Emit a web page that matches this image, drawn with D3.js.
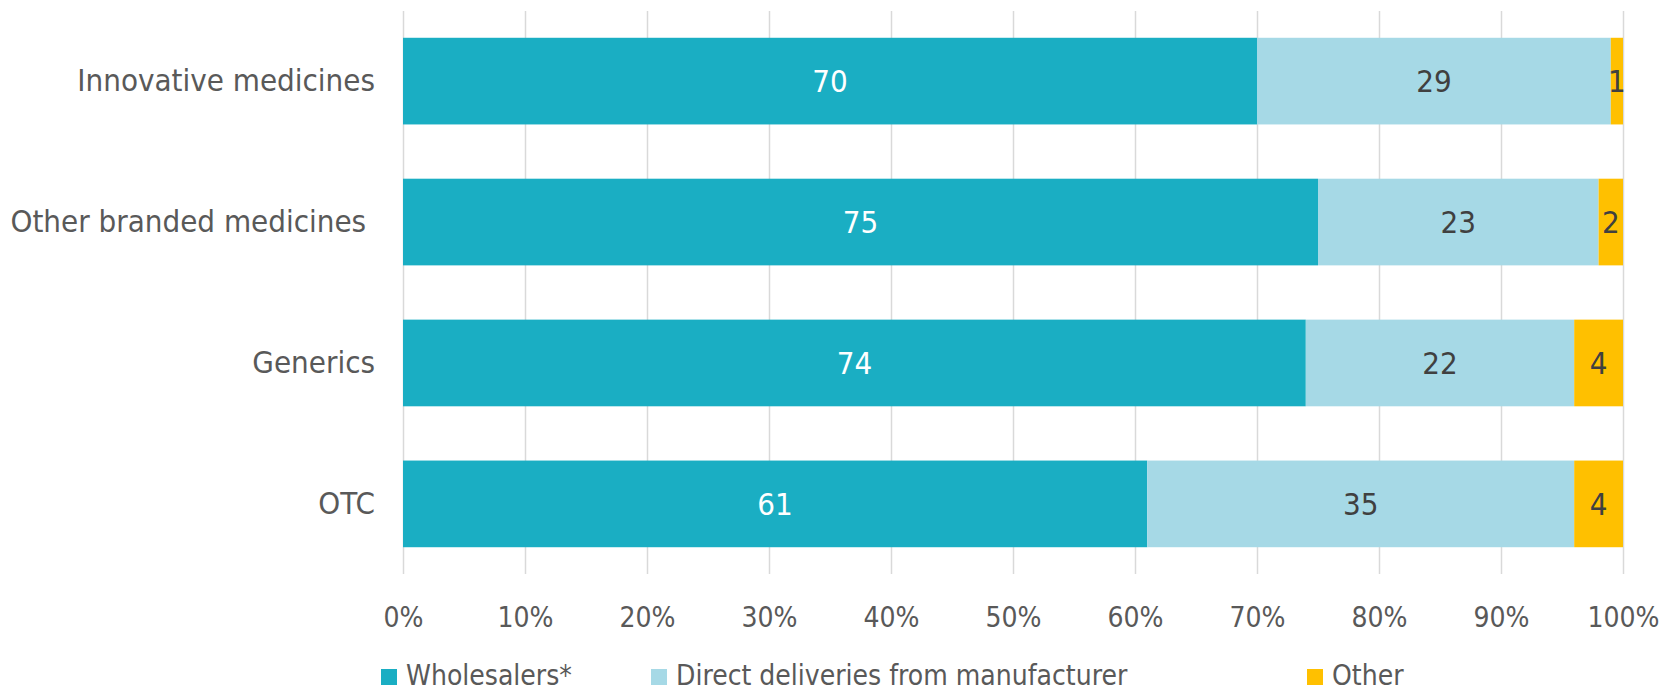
<!DOCTYPE html>
<html>
<head>
<meta charset="utf-8">
<script src="https://cdn.jsdelivr.net/npm/d3@7"></script>
<style>
  body { margin: 0; background: #fff; }
  svg text { font-family: "DejaVu Sans Condensed", "DejaVu Sans", sans-serif; }
</style>
</head>
<body>
<div id="chart"></div>
<script>
// data
var categories = ["Innovative medicines", "Other branded medicines ", "Generics", "OTC"];
var seriesNames = ["Wholesalers*", "Direct deliveries from manufacturer", "Other"];
var wholesalers = [70, 75, 74, 61];
var direct = [29, 23, 22, 35];
var other = [1, 2, 4, 4];
var ticks = [0, 10, 20, 30, 40, 50, 60, 70, 80, 90, 100];

var colors = ["#1aaec3", "#a6d9e6", "#ffc000"];
var labelColors = ["#ffffff", "#404040", "#404040"];

var W = 1669, H = 691;
var margin = {left: 403, right: 46, top: 11, bottom: 117};
var bigFont = 31, smallFont = 28;

var rows = categories.map((c, i) => ({cat: c, s0: wholesalers[i], s1: direct[i], s2: other[i]}));
var stack = d3.stack().keys(["s0", "s1", "s2"])(rows);

var x = d3.scaleLinear().domain([0, 100]).range([margin.left, W - margin.right]);
var y = d3.scaleBand().domain(categories).range([margin.top, H - margin.bottom])
    .paddingInner(0.385).paddingOuter(0.19);

var svg = d3.select("#chart").append("svg")
    .attr("width", W).attr("height", H);

// gridlines
svg.append("g")
    .selectAll("line")
    .data(ticks)
    .join("line")
    .attr("x1", d => x(d) + 0.5).attr("x2", d => x(d) + 0.5)
    .attr("y1", margin.top).attr("y2", H - margin.bottom)
    .attr("stroke", "#d9d9d9").attr("stroke-width", 1.5);

// bars
var layers = svg.append("g")
    .selectAll("g")
    .data(stack)
    .join("g")
    .attr("fill", (d, i) => colors[i]);

layers.selectAll("rect")
    .data(d => d)
    .join("rect")
    .attr("x", d => x(d[0]))
    .attr("width", d => x(d[1]) - x(d[0]))
    .attr("y", d => y(d.data.cat))
    .attr("height", y.bandwidth());

// value labels
svg.append("g")
    .selectAll("g")
    .data(stack)
    .join("g")
    .attr("fill", (d, i) => labelColors[i])
    .selectAll("text")
    .data(d => d)
    .join("text")
    .attr("x", d => x((d[0] + d[1]) / 2))
    .attr("y", d => y(d.data.cat) + y.bandwidth() / 2)
    .attr("dy", "0.36em")
    .attr("text-anchor", "middle")
    .style("font-size", bigFont + "px")
    .text(d => d[1] - d[0]);

// category axis
var yAxis = svg.append("g")
    .attr("transform", `translate(${margin.left - 28},0)`)
    .call(d3.axisLeft(y).tickSize(0).tickPadding(0));
yAxis.select(".domain").remove();
yAxis.selectAll("text")
    .attr("fill", "#595959")
    .style("font-size", bigFont + "px")
    .style("white-space", "pre")
    .style("font-family", null);

// percent axis
var xAxis = svg.append("g")
    .attr("transform", `translate(0,${H - margin.bottom})`)
    .call(d3.axisBottom(x).tickValues(ticks).tickFormat(d => d + "%").tickSize(0).tickPadding(0));
xAxis.select(".domain").remove();
xAxis.selectAll("text")
    .attr("dy", null)
    .attr("y", 627 - (H - margin.bottom))
    .attr("fill", "#595959")
    .style("font-size", smallFont + "px")
    .style("font-family", null);

// legend
var legendX = [381, 651, 1307];
var legend = svg.append("g")
    .selectAll("g")
    .data(seriesNames)
    .join("g")
    .attr("transform", (d, i) => `translate(${legendX[i]},685)`);
legend.append("rect")
    .attr("x", 0).attr("y", -16)
    .attr("width", 16).attr("height", 16)
    .attr("fill", (d, i) => colors[i]);
legend.append("text")
    .attr("x", 25).attr("y", 0)
    .attr("fill", "#595959")
    .style("font-size", smallFont + "px")
    .text(d => d);
</script>
</body>
</html>
